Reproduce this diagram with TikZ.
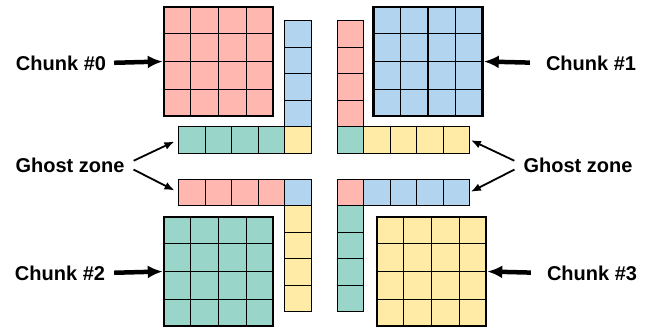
\documentclass[tikz,border=0pt]{standalone}
\usepackage{fontspec}
\setmainfont{Liberation Sans}
\usepackage{xcolor}
\usetikzlibrary{calc, arrows.meta, positioning}

\definecolor{redc}{HTML}{FFB7B0}
\definecolor{bluec}{HTML}{B3D4EF}
\definecolor{greenc}{HTML}{99D5C9}
\definecolor{yellowc}{HTML}{FFEAA6}

\tikzset{
    cell/.style={draw=black, line width=0.9pt, minimum size=26.5pt, inner sep=0pt},
    chunk/.style={draw=black, line width=2.6pt, minimum size=109pt, inner sep=0pt},
    lbl/.style={font=\fontsize{20}{24}\selectfont\bfseries, inner sep=0pt},
    bigarrow/.style={line width=4.5pt, -{Latex[length=15pt, width=13pt]}},
    ghostarrow/.style={line width=1.8pt, -{Latex[length=10pt, width=8pt]}}
}

\begin{document}
\begin{tikzpicture}[x=1pt, y=-1pt]
    \useasboundingbox (0,0) rectangle (660,331);

    % 1. Bốn khối dữ liệu (chunk) 4x4
    \node[chunk, fill=redc] (c0) at (218.5,61.5) {};
    \node[chunk, fill=bluec] (c1) at (428,61.5) {};
    \node[chunk, fill=greenc] (c2) at (218.5,271.5) {};
    \node[chunk, fill=yellowc] (c3) at (431.5,271.5) {};
    \foreach \c in {c0,c1,c2,c3} {
        \foreach \i in {1,2,3} {
            \draw[line width=1.1pt] ($(\c.north west)!\i/4!(\c.north east)$) -- ($(\c.south west)!\i/4!(\c.south east)$);
            \draw[line width=1.1pt] ($(\c.north west)!\i/4!(\c.south west)$) -- ($(\c.north east)!\i/4!(\c.south east)$);
        }
    }

    % 2. Vùng ghost hình chữ L quanh tâm
    % Góc trên trái
    \node[cell, fill=yellowc] (tl) at (297.75,139.75) {};
    \foreach \i in {1,...,4} {
        \node[cell, fill=bluec] (tlv\i) at (297.75,139.75-26.5*\i) {};
        \node[cell, fill=greenc] (tlh\i) at (297.75-26.5*\i,139.75) {};
    }
    % Góc trên phải
    \node[cell, fill=greenc] (tr) at (350.25,139.75) {};
    \foreach \i in {1,...,4} {
        \node[cell, fill=redc] (trv\i) at (350.25,139.75-26.5*\i) {};
        \node[cell, fill=yellowc] (trh\i) at (350.25+26.5*\i,139.75) {};
    }
    % Góc dưới trái
    \node[cell, fill=bluec] (bl) at (297.75,192.25) {};
    \foreach \i in {1,...,4} {
        \node[cell, fill=yellowc] (blv\i) at (297.75,192.25+26.5*\i) {};
        \node[cell, fill=redc] (blh\i) at (297.75-26.5*\i,192.25) {};
    }
    % Góc dưới phải
    \node[cell, fill=redc] (br) at (350.25,192.25) {};
    \foreach \i in {1,...,4} {
        \node[cell, fill=greenc] (brv\i) at (350.25,192.25+26.5*\i) {};
        \node[cell, fill=bluec] (brh\i) at (350.25+26.5*\i,192.25) {};
    }

    % 3. Nhãn và mũi tên
    \node[lbl] (lbl0) at (61,63) {Chunk \#0};
    \node[lbl] (lbl1) at (591,63) {Chunk \#1};
    \node[lbl] (lbl2) at (60,273) {Chunk \#2};
    \node[lbl] (lbl3) at (592,273) {Chunk \#3};
    \draw[bigarrow, shorten <=8pt] (lbl0.east) -- (c0.west);
    \draw[bigarrow, shorten <=16pt] (lbl1.west) -- (c1.east);
    \draw[bigarrow, shorten <=9pt] (lbl2.east) -- (c2.west);
    \draw[bigarrow, shorten <=16pt] (lbl3.west) -- (c3.east);

    \node[lbl] (gl) at (70,165) {Ghost zone};
    \node[lbl] (gr) at (578,165) {Ghost zone};
    \draw[ghostarrow, shorten <=10pt, shorten >=4pt] (gl.east) -- (tlh4.west);
    \draw[ghostarrow, shorten <=10pt, shorten >=4pt] (gl.east) -- (blh4.west);
    \draw[ghostarrow, shorten <=10pt, shorten >=1pt] (gr.west) -- (trh4.east);
    \draw[ghostarrow, shorten <=10pt, shorten >=1pt] (gr.west) -- (brh4.east);
\end{tikzpicture}
\end{document}
